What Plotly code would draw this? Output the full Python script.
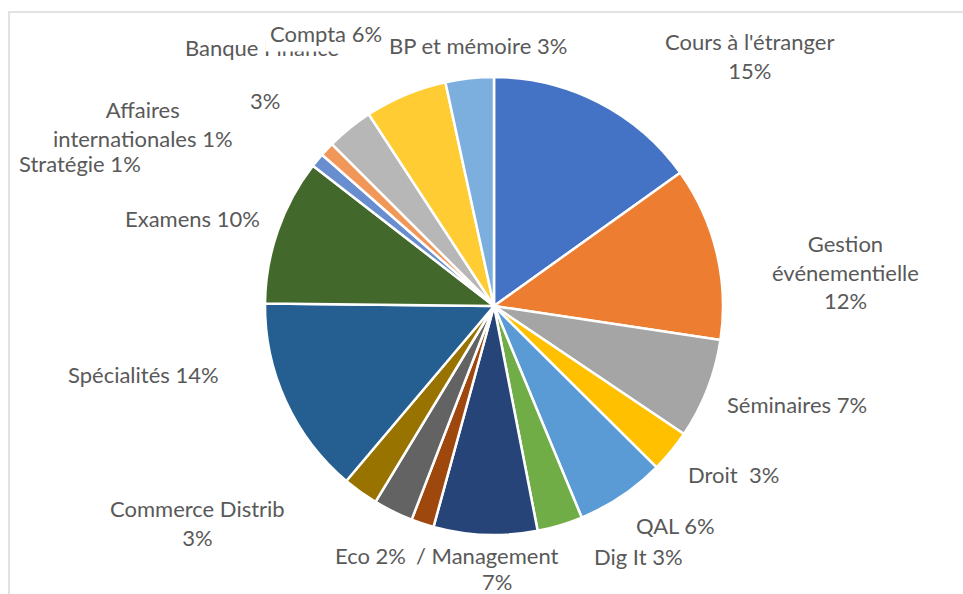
import plotly.graph_objects as go

# Data (clockwise from 12 o'clock)
categories = ["Cours à l'étranger", "Gestion événementielle", "Séminaires", "Droit",
              "QAL", "Dig It", "Management", "Eco", "Autre", "Commerce Distrib",
              "Spécialités", "Examens", "Stratégie", "Affaires internationales",
              "Banque Finance", "Compta", "BP et mémoire"]
shares = [15.1, 12.25, 7.05, 3.0, 6.3, 3.2, 7.3, 1.6, 2.8, 2.5,
          14.0, 10.3, 1.0, 1.0, 3.3, 5.8, 3.4]
colors = ["#4472C4", "#ED7D31", "#A5A5A5", "#FFC000", "#5B9BD5", "#70AD47",
          "#264478", "#9E480E", "#636363", "#997300", "#255E91", "#43682B",
          "#698ED0", "#F1975A", "#B7B7B7", "#FFCD33", "#7CAFDD"]

# Label texts and their placement (pixel positions in a 963x594 canvas)
label_texts = ["Cours à l'étranger<br>15%", "Gestion<br>événementielle<br>12%",
               "Séminaires 7%", "Droit  3%", "QAL 6%", "Dig It 3%",
               "/ Management", "7%", "Eco 2%", "Commerce Distrib<br>3%",
               "Spécialités 14%", "Examens 10%", "Stratégie 1%",
               "Affaires<br>internationales 1%", "Banque Finance", "3%",
               "Compta 6%", "BP et mémoire 3%"]
label_px = [(749, 56), (845, 272), (797, 404), (733, 474), (675, 525), (638, 556),
            (487, 555), (497, 581), (370, 555), (197, 523), (143, 374), (192, 218),
            (80, 163), (143, 124), (262, 48), (265, 101), (326, 34), (478, 46)]

W, H = 963, 594
cx, cy, r = 494, 306, 229

fig = go.Figure(go.Pie(
    labels=categories, values=shares, sort=False, direction="clockwise",
    rotation=0, textinfo="none", hoverinfo="label+percent",
    marker=dict(colors=colors, line=dict(color="white", width=2.5)),
    domain=dict(x=[(cx - r) / W, (cx + r) / W], y=[1 - (cy + r) / H, 1 - (cy - r) / H]),
    showlegend=False,
))

font = dict(family="Lato, Carlito, Calibri, sans-serif", size=22, color="#595959")
for txt, (px, py) in zip(label_texts, label_px):
    is_top = txt.startswith("Compta")
    fig.add_annotation(x=px / W, y=1 - py / H, xref="paper", yref="paper",
                       text=txt, showarrow=False, font=font, align="center",
                       xanchor="center", yanchor="middle",
                       bgcolor="white" if is_top else None,
                       borderpad=4 if is_top else 0)

# frame (partially cropped in the original)
fig.add_shape(type="rect", xref="paper", yref="paper",
              x0=9 / W, y0=-0.05, x1=1.05, y1=1 - 12 / H,
              line=dict(color="#D9D9D9", width=1.5), layer="below")

fig.update_layout(width=W, height=H, margin=dict(l=0, r=0, t=0, b=0),
                  paper_bgcolor="white", plot_bgcolor="white")
fig.write_html("out.html", config={"displayModeBar": False},
               post_script="document.body.style.margin='0';document.body.style.overflow='hidden';")
